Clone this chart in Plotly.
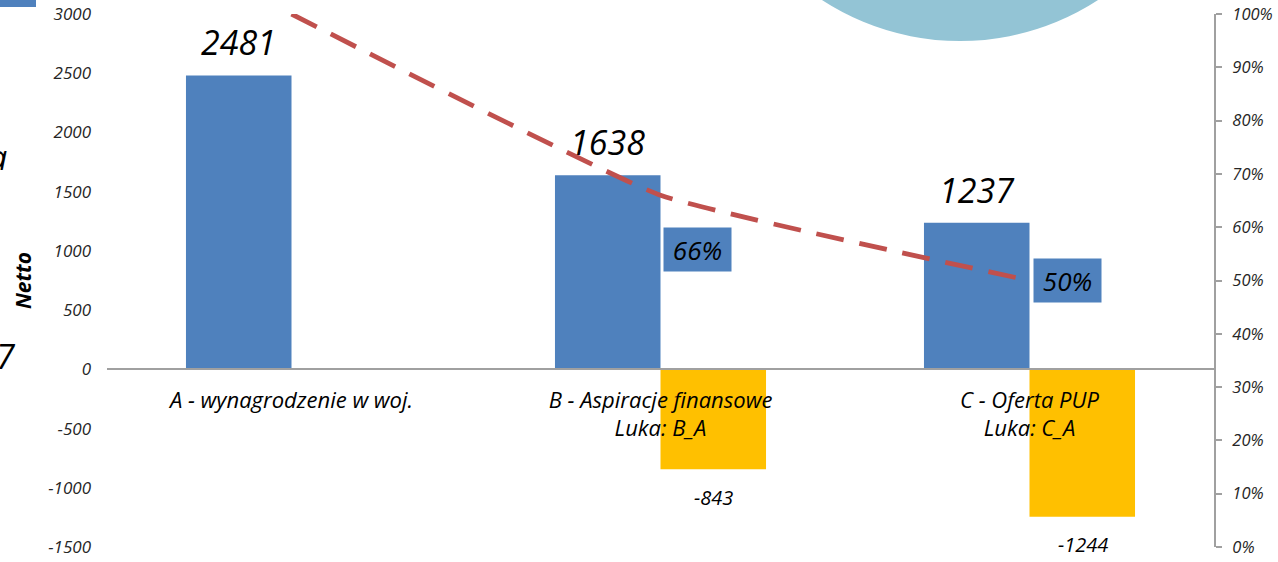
import plotly.graph_objects as go

categories = ["A - wynagrodzenie w woj.",
              "B - Aspiracje finansowe<br>Luka: B_A",
              "C - Oferta PUP<br>Luka: C_A"]
netto = [2481, 1638, 1237]
luka = [None, -843, -1244]
ratio = [1.00, 0.66, 0.50]
ratio_labels = ["", "66%", "50%"]
left_ticks = [-1500, -1000, -500, 0, 500, 1000, 1500, 2000, 2500, 3000]
left_tick_labels = ["-1500", "-1000", "-500", "0", "500", "1000", "1500", "2000", "2500", "3000"]

BLUE = "#4F81BD"
ORANGE = "#FFC000"
RED = "#C0504D"
FONT = "Open Sans"

W, H = 1278, 562
L, R, T, B = 107, 64, 14, 15

fig = go.Figure()
fig.add_trace(go.Bar(x=categories, y=netto, marker_color=BLUE, name="Netto",
                     marker_line_width=0))
fig.add_trace(go.Bar(x=categories, y=luka, marker_color=ORANGE, name="Luka",
                     marker_line_width=0))
fig.add_trace(go.Scatter(x=categories, y=ratio, yaxis="y2", mode="lines",
                         line=dict(color=RED, width=4.8, dash="28px,16px",
                                   shape="spline", smoothing=0.35),
                         name="%"))

ann = []
for c, v in zip(categories, netto):
    ann.append(dict(x=c, y=v, xref="x", yref="y", text=str(v), showarrow=False,
                    xshift=-53, yanchor="middle", yshift=33,
                    font=dict(family=FONT, size=34, color="black", style="italic")))
for c, v in zip(categories, luka):
    if v is None:
        continue
    ann.append(dict(x=c, y=v, xref="x", yref="y", text=str(v), showarrow=False,
                    xshift=53, yanchor="middle", yshift=-28,
                    font=dict(family=FONT, size=20, color="black", style="italic")))
shifts = [None, (37, -54), (38, 0)]
for c, v, t, s in zip(categories, ratio, ratio_labels, shifts):
    if not t:
        continue
    ann.append(dict(x=c, y=v, xref="x", yref="y2", text=t, showarrow=False,
                    xshift=s[0], yshift=s[1], xanchor="center", yanchor="middle",
                    width=65, height=41, align="center", valign="middle",
                    bgcolor=BLUE, borderpad=1,
                    font=dict(family=FONT, size=26, color="black", style="italic")))
# cropped fragments at the left edge
ann.append(dict(x=0, y=1 - (157 - T) / (H - T - B), xref="paper", yref="paper", text="a",
                showarrow=False, xanchor="right", yanchor="middle", xshift=-L + 9,
                font=dict(family=FONT, size=34, style="italic", color="black")))
ann.append(dict(x=0, y=1 - (356 - T) / (H - T - B), xref="paper", yref="paper", text="7",
                showarrow=False, xanchor="right", yanchor="middle", xshift=-L + 18,
                font=dict(family=FONT, size=34, style="italic", color="black")))

pw, ph = W - L - R, H - T - B
def px(x):
    return (x - L) / pw
def py(y):
    return 1 - (y - T) / ph

shapes = [
    dict(type="circle", xref="paper", yref="paper",
         x0=px(960 - 253), x1=px(960 + 253), y0=py(-212 + 253), y1=py(-212 - 253),
         fillcolor="#93C4D5", line_width=0, layer="above"),
    dict(type="rect", xref="paper", yref="paper",
         x0=px(-2), x1=px(36), y0=py(7), y1=py(-2),
         fillcolor=BLUE, line_width=0),
]

fig.update_layout(
    width=W, height=H, margin=dict(l=L, r=R, t=T, b=B, autoexpand=False),
    plot_bgcolor="white", paper_bgcolor="white",
    barmode="group", bargap=0.428, bargroupgap=0,
    showlegend=False, annotations=ann, shapes=shapes,
    font=dict(family=FONT, color="#404040"),
    xaxis=dict(anchor="free", position=1/3, showline=True, linecolor="#A0A0A0", linewidth=2,
               ticks="", showgrid=False, ticklabelstandoff=11, automargin=False,
               tickfont=dict(family=FONT, size=22, color="black", style="italic")),
    yaxis=dict(range=[-1500, 3000], tickvals=left_ticks, ticktext=left_tick_labels,
               showgrid=False, zeroline=False,
               showline=False, ticks="", ticklabelstandoff=15, automargin=False,
               tickfont=dict(family=FONT, size=17, color="#262626", style="italic"),
               title=dict(text="<b><i>Netto</i></b>", standoff=10,
                          font=dict(family=FONT, size=21, color="black"))),
    yaxis2=dict(range=[0, 1], dtick=0.1, tickformat=".0%", overlaying="y", side="right",
                showgrid=False, zeroline=False, showline=True, linecolor="#A0A0A0", linewidth=2,
                ticks="outside", ticklen=6, tickcolor="#A0A0A0", tickwidth=2,
                ticklabelstandoff=7, automargin=False,
                tickfont=dict(family=FONT, size=16.5, color="#262626", style="italic")),
)

fig.write_html("out.html", config={"displayModeBar": False},
               post_script="document.body.style.margin='0';document.body.style.overflow='hidden';")
